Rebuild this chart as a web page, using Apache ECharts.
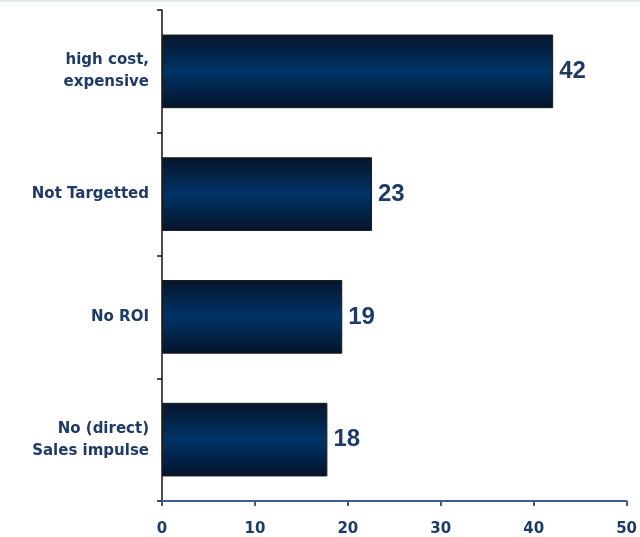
<!DOCTYPE html>
<html>
<head>
<meta charset="utf-8">
<script src="https://cdn.jsdelivr.net/npm/echarts@6/dist/echarts.min.js"></script>
<style>
html,body{margin:0;padding:0;background:#fff;}
#c{width:640px;height:537px;}
</style>
</head>
<body>
<div id="c"></div>
<script>
var categories = ['high cost,\nexpensive', 'Not Targetted', 'No ROI', 'No (direct)\nSales impulse'];
var values = [42.1, 22.6, 19.4, 17.8];
var valueLabels = ['42', '23', '19', '18'];
var xTicks = [0, 10, 20, 30, 40, 50];

var chart = echarts.init(document.getElementById('c'), null, {renderer: 'canvas'});
var textColor = '#1e3a66';
chart.setOption({
  animation: false,
  backgroundColor: '#ffffff',
  graphic: [{
    type: 'rect', shape: {x: 0, y: 0, width: 640, height: 2},
    style: {fill: '#e3e9ef'}, silent: true
  }],
  grid: {left: 162, right: 12, top: 10, bottom: 36, containLabel: false},
  xAxis: {
    type: 'value',
    min: xTicks[0], max: xTicks[xTicks.length - 1], interval: 10,
    splitLine: {show: false},
    axisLine: {show: true, lineStyle: {color: '#3b5f91', width: 2}},
    axisTick: {show: true, length: 5, lineStyle: {color: '#3b5f91', width: 2}},
    axisLabel: {
      margin: 21, color: textColor, fontSize: 15, fontWeight: 'bold',
      fontFamily: '"DejaVu Sans", sans-serif'
    }
  },
  yAxis: {
    type: 'category',
    inverse: true,
    data: categories,
    axisLine: {show: true, lineStyle: {color: '#111', width: 1.5}},
    axisTick: {show: true, length: 5, lineStyle: {color: '#111', width: 1.5}},
    axisLabel: {
      margin: 13, color: textColor, fontSize: 15, fontWeight: 'bold',
      lineHeight: 22, align: 'right',
      fontFamily: '"DejaVu Sans", sans-serif'
    }
  },
  series: [{
    type: 'bar',
    data: values,
    barCategoryGap: '40%',
    itemStyle: {
      borderColor: '#1a1a1a',
      borderWidth: 1,
      color: new echarts.graphic.LinearGradient(0, 0, 0, 1, [
        {offset: 0, color: '#07152b'},
        {offset: 0.5, color: '#003467'},
        {offset: 1, color: '#05132a'}
      ])
    },
    label: {
      show: true, position: 'right', distance: 6,
      color: textColor, fontSize: 24, fontWeight: 'bold',
      fontFamily: '"Liberation Sans", Arial, sans-serif',
      formatter: function (p) { return valueLabels[p.dataIndex]; }
    }
  }]
});
</script>
</body>
</html>
